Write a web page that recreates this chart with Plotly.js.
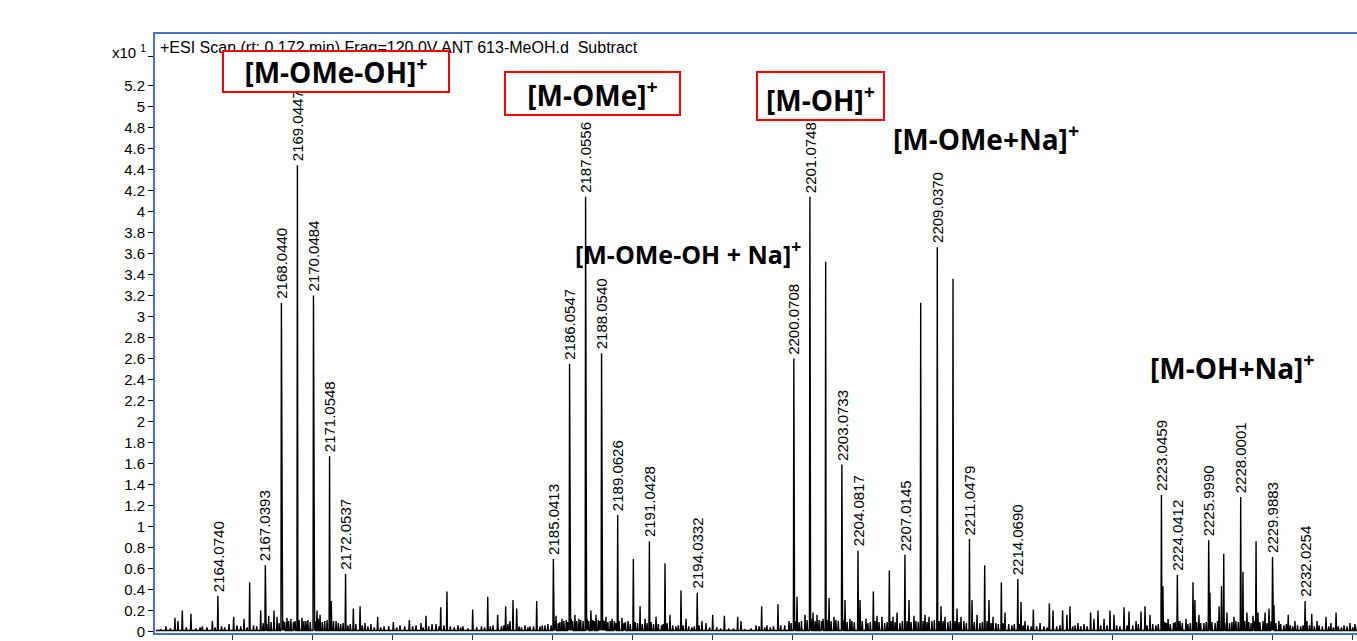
<!DOCTYPE html>
<html>
<head>
<meta charset="utf-8">
<script src="https://cdn.plot.ly/plotly-3.0.1.min.js"></script>
<style>
  html, body { margin: 0; padding: 0; background: #ffffff; overflow: hidden; }
  #chart { width: 1420px; height: 641px; }
</style>
</head>
<body>
<div id="chart"></div>
<script>
// ---- Data (m/z, intensity in units of x10^1 counts) ----
const labeledMz = [2164.0740, 2167.0393, 2168.0440, 2169.0447, 2170.0484, 2171.0548, 2172.0537,
  2185.0413, 2186.0547, 2187.0556, 2188.0540, 2189.0626, 2191.0428, 2194.0332,
  2200.0708, 2201.0748, 2203.0733, 2204.0817, 2207.0145, 2209.0370, 2211.0479, 2214.0690,
  2223.0459, 2224.0412, 2225.9990, 2228.0001, 2229.9883, 2232.0254];
const labeledInt = [0.34, 0.63, 3.13, 4.44, 3.20, 1.67, 0.55,
  0.69, 2.55, 4.14, 2.65, 1.11, 0.86, 0.37,
  2.60, 4.14, 1.59, 0.77, 0.73, 3.66, 0.88, 0.50,
  1.30, 0.54, 0.87, 1.28, 0.71, 0.29];

// unlabeled peaks
const otherMz = [2202.06, 2208.00, 2210.02, 2166.06, 2190.04, 2192.02, 2193.02, 2205.04, 2206.04,
  2212.00, 2213.04, 2225.02, 2226.94, 2228.96, 2178.39, 2180.94,
  2160.83, 2161.39, 2161.58, 2161.85, 2162.39, 2162.96, 2163.39, 2163.73, 2164.77, 2165.06, 2165.27,
  2165.71, 2166.75, 2167.25, 2167.58, 2167.77, 2168.39, 2168.64, 2169.33, 2169.58, 2170.27, 2170.46,
  2171.16, 2171.46, 2172.54, 2172.96, 2173.27, 2173.64, 2174.06, 2174.46, 2175.04, 2175.46, 2176.04,
  2176.46, 2176.77, 2177.08, 2177.46, 2177.71, 2178.00, 2179.08, 2179.39, 2180.00, 2181.27, 2181.56,
  2182.06, 2182.33, 2182.52, 2182.75, 2183.27, 2183.58, 2184.00, 2184.52, 2185.21, 2185.58, 2186.39,
  2186.64, 2187.39, 2187.71, 2188.33, 2188.71, 2189.33, 2189.71, 2190.46, 2190.77, 2191.46, 2192.33,
  2193.33, 2194.33, 2194.58, 2195.00, 2195.73, 2196.56, 2196.77, 2197.71, 2198.06, 2198.39, 2199.08,
  2199.77, 2200.27, 2200.77, 2201.27, 2201.52, 2202.27, 2202.58, 2203.27, 2203.58, 2204.21, 2204.58,
  2205.27, 2205.58, 2206.27, 2206.52, 2207.27, 2207.58, 2208.27, 2208.52, 2209.27, 2209.52, 2210.27,
  2210.52, 2211.21, 2211.52, 2212.27, 2212.52, 2213.27, 2214.27, 2214.52, 2215.04, 2215.46, 2216.04,
  2216.27, 2216.87, 2217.14, 2217.33, 2217.83, 2218.21, 2218.62, 2218.83, 2219.08, 2219.46, 2219.83,
  2220.08, 2220.71, 2221.02, 2221.46, 2221.77, 2222.02, 2222.33, 2223.14, 2223.46, 2224.21, 2224.58,
  2225.14, 2225.39, 2226.08, 2226.65, 2226.80, 2227.14, 2227.58, 2228.14, 2228.39, 2228.77, 2229.08,
  2229.52, 2229.77, 2230.08, 2230.39, 2230.97, 2231.39, 2232.14, 2232.44, 2232.77, 2233.33, 2233.64,
  2233.96, 2234.46, 2234.83, 2235.14];
const otherInt = [3.52, 3.13, 3.36, 0.47, 0.69, 0.65, 0.39, 0.38, 0.58,
  0.63, 0.47, 0.47, 0.74, 0.86, 0.38, 0.33,
  0.05, 0.13, 0.10, 0.20, 0.17, 0.04, 0.04, 0.10, 0.07, 0.14, 0.06,
  0.12, 0.20, 0.15, 0.20, 0.14, 0.13, 0.12, 0.13, 0.10, 0.20, 0.16,
  0.29, 0.10, 0.22, 0.24, 0.08, 0.07, 0.14, 0.05, 0.09, 0.06, 0.11,
  0.06, 0.08, 0.15, 0.07, 0.07, 0.23, 0.06, 0.05, 0.21, 0.06, 0.16,
  0.24, 0.10, 0.30, 0.22, 0.06, 0.05, 0.29, 0.06, 0.15, 0.12, 0.16,
  0.12, 0.20, 0.16, 0.14, 0.12, 0.13, 0.10, 0.24, 0.12, 0.14, 0.16,
  0.12, 0.10, 0.08, 0.16, 0.15, 0.14, 0.10, 0.06, 0.24, 0.06, 0.26,
  0.10, 0.33, 0.16, 0.18, 0.16, 0.32, 0.14, 0.30, 0.12, 0.30, 0.12,
  0.15, 0.14, 0.14, 0.18, 0.30, 0.15, 0.16, 0.14, 0.24, 0.14, 0.22,
  0.14, 0.30, 0.16, 0.30, 0.14, 0.18, 0.28, 0.10, 0.21, 0.08, 0.27,
  0.20, 0.20, 0.16, 0.24, 0.08, 0.07, 0.18, 0.12, 0.20, 0.12, 0.20,
  0.16, 0.23, 0.19, 0.10, 0.19, 0.24, 0.16, 0.43, 0.12, 0.10, 0.12,
  0.30, 0.16, 0.37, 0.24, 0.43, 0.18, 0.14, 0.57, 0.18, 0.15, 0.18,
  0.18, 0.22, 0.25, 0.10, 0.16, 0.10, 0.10, 0.17, 0.10, 0.14, 0.08,
  0.18, 0.06, 0.08, 0.07];

// baseline noise ("grass")
const noiseMz = [2160.50, 2161.10, 2162.10, 2162.70, 2163.10, 2163.90, 2164.30, 2164.50, 2165.50, 2165.90,
  2166.30, 2166.50, 2166.90, 2167.12, 2167.40, 2167.90, 2168.15, 2168.25, 2168.50, 2168.80, 2168.90,
  2169.15, 2169.45, 2169.70, 2169.85, 2170.15, 2170.35, 2170.60, 2170.75, 2170.90, 2171.30, 2171.60,
  2171.75, 2171.90, 2172.20, 2172.35, 2172.70, 2173.10, 2173.45, 2173.85, 2174.25, 2174.75, 2175.25,
  2175.75, 2176.25, 2176.90, 2177.25, 2177.90, 2178.20, 2178.60, 2178.85, 2179.25, 2179.70, 2180.25,
  2180.55, 2180.75, 2181.10, 2181.80, 2181.95, 2182.20, 2182.90, 2183.05, 2183.45, 2183.80, 2184.20,
  2184.35, 2184.70, 2184.90, 2185.12, 2185.35, 2185.45, 2185.70, 2185.85, 2185.95, 2186.15, 2186.25,
  2186.50, 2186.75, 2186.90, 2187.15, 2187.25, 2187.50, 2187.60, 2187.85, 2187.95, 2188.15, 2188.25,
  2188.45, 2188.60, 2188.85, 2188.95, 2189.15, 2189.45, 2189.55, 2189.85, 2190.15, 2190.30, 2190.60,
  2190.90, 2191.15, 2191.30, 2191.60, 2191.80, 2191.90, 2192.15, 2192.50, 2192.70, 2192.85, 2193.15,
  2193.50, 2193.70, 2193.85, 2194.15, 2194.80, 2195.25, 2195.50, 2196.00, 2196.30, 2197.00, 2197.40,
  2197.90, 2198.25, 2198.60, 2198.80, 2199.25, 2199.50, 2199.90, 2200.15, 2200.40, 2200.55, 2200.90,
  2201.15, 2201.40, 2201.65, 2201.80, 2201.90, 2202.15, 2202.40, 2202.70, 2202.85, 2203.15, 2203.40,
  2203.70, 2203.85, 2204.35, 2204.70, 2204.85, 2205.15, 2205.40, 2205.75, 2205.90, 2206.15, 2206.40,
  2206.70, 2206.85, 2207.15, 2207.40, 2207.70, 2207.85, 2208.15, 2208.40, 2208.70, 2208.85, 2209.15,
  2209.40, 2209.70, 2209.85, 2210.15, 2210.40, 2210.70, 2210.85, 2211.35, 2211.70, 2211.85, 2212.15,
  2212.40, 2212.70, 2212.85, 2213.15, 2213.50, 2213.70, 2213.85, 2214.15, 2214.40, 2214.70, 2214.90,
  2215.25, 2215.70, 2215.90, 2216.50, 2216.70, 2217.50, 2217.65, 2218.00, 2218.40, 2219.25, 2219.65,
  2220.25, 2220.45, 2220.90, 2221.25, 2221.60, 2222.15, 2222.50, 2222.70, 2222.85, 2223.25, 2223.35,
  2223.60, 2223.80, 2223.90, 2224.10, 2224.35, 2224.70, 2224.85, 2225.25, 2225.50, 2225.70, 2225.85,
  2226.20, 2226.40, 2226.55, 2227.00, 2227.30, 2227.45, 2227.70, 2227.85, 2228.25, 2228.50, 2228.65,
  2228.85, 2229.20, 2229.40, 2229.65, 2229.90, 2230.20, 2230.50, 2230.70, 2230.85, 2231.10, 2231.25,
  2231.55, 2231.75, 2231.90, 2232.30, 2232.60, 2232.90, 2233.10, 2233.50, 2233.80, 2234.10, 2234.30,
  2234.65, 2235.00, 2235.30, 2235.60];
const noiseInt = [0.02, 0.03, 0.04, 0.03, 0.05, 0.04, 0.05, 0.04, 0.05, 0.04,
  0.06, 0.05, 0.08, 0.07, 0.09, 0.08, 0.10, 0.09, 0.10, 0.09, 0.10,
  0.11, 0.10, 0.11, 0.09, 0.10, 0.12, 0.09, 0.10, 0.11, 0.10, 0.08,
  0.07, 0.08, 0.06, 0.07, 0.07, 0.06, 0.05, 0.04, 0.04, 0.05, 0.04,
  0.05, 0.05, 0.04, 0.05, 0.05, 0.06, 0.05, 0.04, 0.04, 0.03, 0.04,
  0.05, 0.04, 0.05, 0.05, 0.06, 0.07, 0.05, 0.04, 0.04, 0.05, 0.05,
  0.06, 0.07, 0.06, 0.10, 0.08, 0.09, 0.10, 0.11, 0.09, 0.12, 0.10,
  0.10, 0.11, 0.10, 0.12, 0.10, 0.11, 0.10, 0.11, 0.10, 0.11, 0.10,
  0.09, 0.10, 0.10, 0.08, 0.10, 0.08, 0.09, 0.07, 0.09, 0.08, 0.07,
  0.08, 0.09, 0.07, 0.07, 0.06, 0.07, 0.08, 0.06, 0.05, 0.06, 0.06,
  0.05, 0.04, 0.05, 0.06, 0.04, 0.04, 0.03, 0.03, 0.03, 0.02, 0.03,
  0.05, 0.04, 0.04, 0.05, 0.06, 0.06, 0.08, 0.10, 0.09, 0.10, 0.11,
  0.12, 0.10, 0.11, 0.10, 0.12, 0.11, 0.10, 0.11, 0.10, 0.11, 0.09,
  0.10, 0.09, 0.10, 0.08, 0.09, 0.10, 0.09, 0.08, 0.09, 0.10, 0.09,
  0.08, 0.10, 0.10, 0.09, 0.10, 0.09, 0.10, 0.09, 0.10, 0.11, 0.10,
  0.10, 0.09, 0.10, 0.10, 0.09, 0.10, 0.08, 0.09, 0.08, 0.09, 0.10,
  0.08, 0.08, 0.07, 0.08, 0.07, 0.06, 0.07, 0.07, 0.06, 0.06, 0.05,
  0.05, 0.05, 0.04, 0.05, 0.06, 0.05, 0.06, 0.05, 0.05, 0.06, 0.06,
  0.06, 0.05, 0.06, 0.06, 0.07, 0.06, 0.07, 0.06, 0.07, 0.09, 0.08,
  0.07, 0.08, 0.09, 0.10, 0.08, 0.07, 0.08, 0.09, 0.08, 0.08, 0.09,
  0.09, 0.08, 0.10, 0.09, 0.08, 0.09, 0.10, 0.09, 0.10, 0.09, 0.08,
  0.10, 0.09, 0.10, 0.08, 0.10, 0.08, 0.07, 0.06, 0.07, 0.06, 0.05,
  0.06, 0.05, 0.06, 0.06, 0.05, 0.06, 0.05, 0.05, 0.04, 0.05, 0.04,
  0.05, 0.04, 0.05, 0.04];

// y-axis ticks
const yTickVals = [0, 0.2, 0.4, 0.6, 0.8, 1, 1.2, 1.4, 1.6, 1.8, 2, 2.2, 2.4, 2.6, 2.8, 3,
  3.2, 3.4, 3.6, 3.8, 4, 4.2, 4.4, 4.6, 4.8, 5, 5.2, 5.48];
const yTickText = ['0', '0.2', '0.4', '0.6', '0.8', '1', '1.2', '1.4', '1.6', '1.8', '2', '2.2', '2.4',
  '2.6', '2.8', '3', '3.2', '3.4', '3.6', '3.8', '4', '4.2', '4.4', '4.6', '4.8', '5', '5.2', ''];

// ion assignment labels
const ionLabels = ['[M-OMe-OH]<sup>+</sup>', '[M-OMe]<sup>+</sup>', '[M-OH]<sup>+</sup>',
  '[M-OMe+Na]<sup>+</sup>', '[M-OMe-OH + Na]<sup>+</sup>', '[M-OH+Na]<sup>+</sup>'];

const titleText = '+ESI Scan (rt: 0.172 min) Frag=120.0V ANT 613-MeOH.d&nbsp;&nbsp;Subtract';

// ---- Build stick-profile line from peaks ----
const BASE = 0.01, HALF = 0.03;
const pts = [];
const allMz = labeledMz.concat(otherMz, noiseMz);
const allInt = labeledInt.concat(otherInt, noiseInt);
for (let i = 0; i < allMz.length; i++) {
  pts.push([allMz[i] - HALF, BASE]);
  pts.push([allMz[i], allInt[i]]);
  pts.push([allMz[i] + HALF, BASE]);
}
pts.push([2160.2, BASE]); pts.push([2237.9, BASE]);
pts.sort((a, b) => a[0] - b[0]);

const trace = {
  type: 'scatter', mode: 'lines',
  x: pts.map(p => p[0]), y: pts.map(p => p[1]),
  line: { color: '#000000', width: 1.4 },
  hoverinfo: 'skip', showlegend: false
};

const arial = 'Liberation Sans, Arial, sans-serif';
const annotations = [];
for (let i = 0; i < labeledMz.length; i++) {
  annotations.push({
    x: labeledMz[i], y: labeledInt[i], xref: 'x', yref: 'y',
    text: labeledMz[i].toFixed(4), textangle: -90, showarrow: false,
    xanchor: 'center', yanchor: 'bottom', yshift: 2,
    font: { family: arial, size: 15, color: '#000' }
  });
}
const boldFont = (s) => ({ family: 'Open Sans, sans-serif', size: s, color: '#000', weight: 'bold' });
const boxStyle = { bordercolor: '#ff0000', borderwidth: 2, borderpad: 0, bgcolor: '#ffffff' };
const ionAnns = [
  Object.assign({ x: 2171.456, y: 5.333, text: ionLabels[0], width: 224, height: 39, valign: 'bottom', font: boldFont(28) }, boxStyle),
  Object.assign({ x: 2187.488, y: 5.124, text: ionLabels[1], width: 173, height: 41, valign: 'middle', font: boldFont(28) }, boxStyle),
  Object.assign({ x: 2201.738, y: 5.10, text: ionLabels[2], width: 125, height: 46, valign: 'bottom', font: boldFont(28) }, boxStyle),
  { x: 2212.08, y: 4.70, text: ionLabels[3], font: boldFont(28) },
  { x: 2193.46, y: 3.605, text: ionLabels[4], font: boldFont(25) },
  { x: 2227.49, y: 2.519, text: ionLabels[5], font: boldFont(28) }
];
ionAnns.forEach(a => {
  Object.assign(a, { xref: 'x', yref: 'y', showarrow: false, xanchor: 'center', yanchor: 'middle' });
  annotations.push(a);
});
annotations.push({
  xref: 'paper', yref: 'paper', x: -0.0056, y: 0.970, xanchor: 'right', yanchor: 'middle',
  text: 'x10 <sup>1</sup>', showarrow: false, font: { family: arial, size: 15, color: '#000' }
});

const blue = '#4472c4';
const layout = {
  width: 1420, height: 641,
  margin: { l: 155, r: 20, t: 34, b: 8, pad: 0 },
  paper_bgcolor: '#ffffff', plot_bgcolor: '#ffffff',
  title: {
    text: titleText, xref: 'container', yref: 'container', x: 160 / 1420, xanchor: 'left',
    y: 1 - 47 / 641, yanchor: 'middle', font: { family: arial, size: 16, color: '#000' }
  },
  xaxis: {
    range: [2160.144, 2237.956], showgrid: false, zeroline: false,
    showline: true, linecolor: blue, linewidth: 2, mirror: true,
    ticks: 'outside', tick0: 2160, dtick: 5, ticklen: 5, tickcolor: '#333', tickwidth: 1,
    showticklabels: false
  },
  yaxis: {
    range: [-0.0143, 5.690], showgrid: false, zeroline: false,
    showline: true, linecolor: blue, linewidth: 2, mirror: true,
    tickmode: 'array', tickvals: yTickVals, ticktext: yTickText,
    ticks: 'outside', ticklen: 5, tickcolor: '#000', tickwidth: 1,
    tickfont: { family: arial, size: 15, color: '#000' }
  },
  annotations: annotations,
  showlegend: false
};

Plotly.newPlot('chart', [trace], layout, { staticPlot: true, displayModeBar: false });
</script>
</body>
</html>
